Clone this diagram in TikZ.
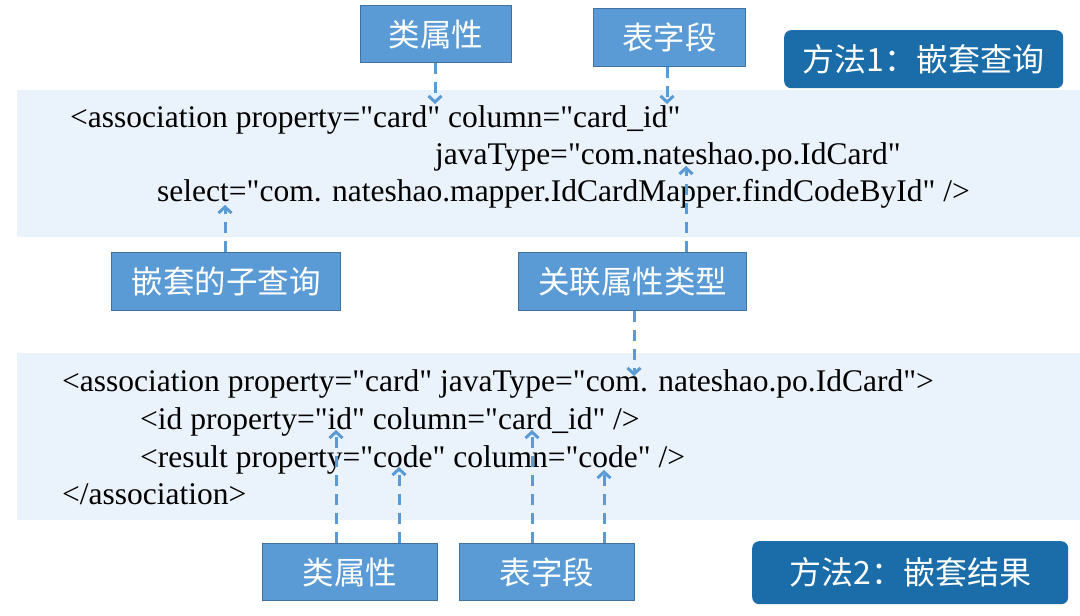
\documentclass[tikz,border=0pt]{standalone}
\usepackage{fontspec}
\setmainfont{Liberation Serif}[Ligatures=TeXOff]
\newfontfamily\cjk{Noto Sans CJK SC}
\usetikzlibrary{arrows.meta}
\definecolor{bandc}{HTML}{EAF2FB}
\definecolor{boxfill}{HTML}{5B9BD5}
\definecolor{boxline}{HTML}{41719C}
\definecolor{methfill}{HTML}{1A6DA9}
\definecolor{arr}{HTML}{5B9BD5}
\begin{document}
\begin{tikzpicture}[x=1pt,y=-1pt,
  lbl/.style={draw=boxline, line width=1.2pt, fill=boxfill, text=white,
    font=\cjk\fontsize{31.5}{34}\selectfont, inner sep=0pt, anchor=north west},
  meth/.style={fill=methfill, rounded corners=7pt, text=white,
    font=\cjk\fontsize{32}{34}\selectfont, inner sep=0pt, anchor=north west},
  code/.style={font=\fontsize{31.5}{36}\selectfont, anchor=base west, inner sep=0pt},
  ptr/.style={draw=arr, line width=3pt, dash pattern=on 11pt off 8pt,
    -{Straight Barb[length=6pt,width=13pt]}}
]
\useasboundingbox[fill=white] (0,0) rectangle (1080,616);
% bands
\fill[bandc] (17,90) rectangle (1080,237);
\fill[bandc] (17,353) rectangle (1080,520);

% labels
\node[lbl, minimum width=151pt, minimum height=57pt] (tl1) at (360,5) {类属性};
\node[lbl, minimum width=152pt, minimum height=58pt] (tl2) at (593,8) {表字段};
\node[meth, minimum width=279pt, minimum height=58pt] (m1) at (784,30) {方法1：嵌套查询};
\node[lbl, minimum width=229pt, minimum height=58pt] (q) at (111,252) {嵌套的子查询};
\node[lbl, minimum width=228pt, minimum height=58pt] (r) at (518,252) {关联属性类型};
\node[lbl, minimum width=175pt, minimum height=57pt] (b1) at (262,543) {类属性};
\node[lbl, minimum width=175pt, minimum height=57pt] (b2) at (459,543) {表字段};
\node[meth, minimum width=316pt, minimum height=63pt] (m2) at (752,541) {方法2：嵌套结果};

% code, top
\node[code] (c1) at (70,127) {<association property="card" column="card\_id"};
\node[code] (c2) at (435,164) {javaType="com.nateshao.po.IdCard"};
\node[code] (c3) at (157,201) {select="com. nateshao.mapper.IdCardMapper.findCodeById" />};
% code, bottom
\node[code] (d1) at (62,391) {<association property="card" javaType="com. nateshao.po.IdCard">};
\node[code] (d2) at (140,429) {<id property="id" column="card\_id" />};
\node[code] (d3) at (140,467) {<result property="code" column="code" />};
\node[code] (d4) at (62,504) {</association>};

% arrow tips
\coordinate (t1) at (435,104);
\coordinate (t2) at (667,104);
\coordinate (t3) at (225,205);
\coordinate (t4) at (686,166);
\coordinate (t5) at (634,376);
\coordinate (t6) at (336,430);
\coordinate (t7) at (399,467);
\coordinate (t8) at (532,430);
\coordinate (t9) at (604,470);

\draw[ptr] (tl1.south -| t1) -- (t1);
\draw[ptr] (tl2.south -| t2) -- (t2);
\draw[ptr] (q.north -| t3) -- (t3);
\draw[ptr] (r.north -| t4) -- (t4);
\draw[ptr] (r.south -| t5) -- (t5);
\draw[ptr] (b1.north -| t6) -- (t6);
\draw[ptr] (b1.north -| t7) -- (t7);
\draw[ptr] (b2.north -| t8) -- (t8);
\draw[ptr] (b2.north -| t9) -- (t9);
\end{tikzpicture}
\end{document}
